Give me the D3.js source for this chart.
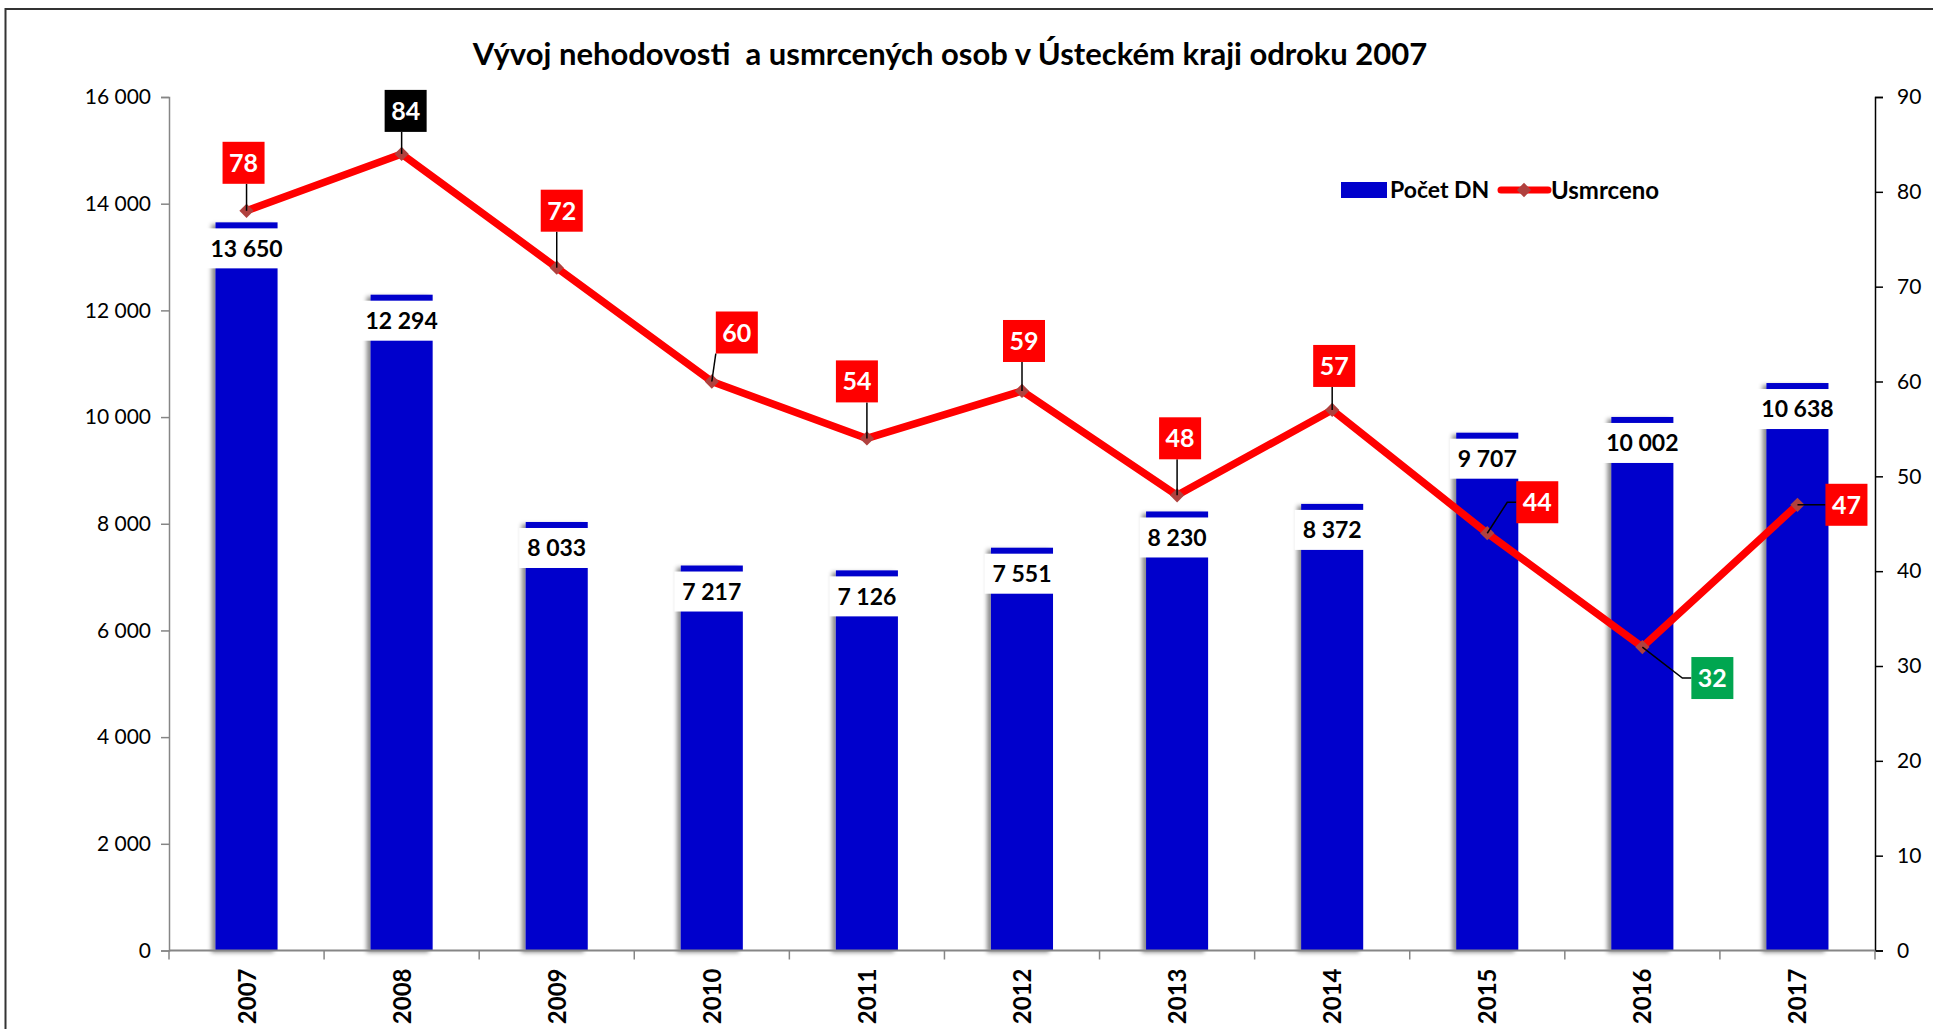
<!DOCTYPE html>
<html>
<head>
<meta charset="utf-8">
<script src="https://cdn.jsdelivr.net/npm/d3@7"></script>
<style>
    body { margin: 0; background: #fff; overflow: hidden; }
    svg { display: block; }
    text { font-family: Lato, "Open Sans", sans-serif; }
</style>
</head>
<body>
<script>
        // data
        const years = ["2007", "2008", "2009", "2010", "2011", "2012", "2013", "2014", "2015", "2016", "2017"];
        const pocetDN = [13650, 12294, 8033, 7217, 7126, 7551, 8230, 8372, 9707, 10002, 10638];
        const usmrceno = [78, 84, 72, 60, 54, 59, 48, 57, 44, 32, 47];
        const leftTicks = [0, 2000, 4000, 6000, 8000, 10000, 12000, 14000, 16000];
        const rightTicks = [0, 10, 20, 30, 40, 50, 60, 70, 80, 90];
        const title = "Vývoj nehodovosti  a usmrcených osob v Ústeckém kraji odroku 2007";
        const seriesNames = ["Počet DN", "Usmrceno"];

        // label box placement relative to the line point (layout, not data)
        const labelShift = [[-3, -48], [4, -43], [5, -57], [25, -49], [-10, -57], [2, -50],
                            [3, -57], [2, -44], [50, -31], [70, 31], [49, 0]];
        const labelFill = (v) => v === d3.max(usmrceno) ? "#000000" : v === d3.min(usmrceno) ? "#00A650" : "#FF0000";

        const width = 1933, height = 1029;
        const plot = { left: 169, right: 1875, top: 97, bottom: 950.5 };

        const svg = d3.select("body")
            .append("svg")
            .attr("width", width)
            .attr("height", height);

        const defs = svg.append("defs");
        defs.append("filter")
            .attr("id", "shadow")
            .attr("x", "-30%").attr("y", "-5%").attr("width", "150%").attr("height", "110%")
            .append("feDropShadow")
            .attr("dx", -4).attr("dy", 2)
            .attr("stdDeviation", 2.2)
            .attr("flood-color", "#000")
            .attr("flood-opacity", 0.45);

        // chart frame
        svg.append("rect")
            .attr("x", 5.5).attr("y", 9)
            .attr("width", width).attr("height", height)
            .attr("fill", "none")
            .attr("stroke", "#333")
            .attr("stroke-width", 2);

        const x = d3.scaleBand()
            .domain(years)
            .range([plot.left, plot.right])
            .paddingInner(0.6)
            .paddingOuter(0.3);
        const yL = d3.scaleLinear().domain([0, 16000]).range([plot.bottom, plot.top]);
        const yR = d3.scaleLinear().domain([0, 90]).range([plot.bottom, plot.top]);

        const cz = d3.formatLocale({ thousands: " ", grouping: [3], decimal: ",", currency: ["", " Kč"] });
        const fmt = cz.format(",d");

        // title
        svg.append("text")
            .attr("x", 950).attr("y", 65)
            .attr("text-anchor", "middle")
            .attr("font-size", 31)
            .attr("font-weight", "bold")
            .style("white-space", "pre")
            .text(title);

        // left axis
        const axL = svg.append("g")
            .attr("transform", `translate(${plot.left},0)`)
            .call(d3.axisLeft(yL).tickValues(leftTicks).tickFormat(fmt).tickSize(8).tickPadding(10));
        axL.select(".domain").attr("stroke", "#868686").attr("stroke-width", 1.5);
        axL.selectAll(".tick line").attr("stroke", "#868686").attr("stroke-width", 1.5);
        axL.selectAll("text").attr("font-size", 21).attr("fill", "#000").attr("font-family", "Lato");

        // right axis
        const axR = svg.append("g")
            .attr("transform", `translate(${plot.right},0)`)
            .call(d3.axisRight(yR).tickValues(rightTicks).tickSize(8).tickPadding(14));
        axR.select(".domain").attr("stroke", "#000").attr("stroke-width", 1.5);
        axR.selectAll(".tick line").attr("stroke", "#000").attr("stroke-width", 1.5);
        axR.selectAll("text").attr("font-size", 21).attr("fill", "#000").attr("font-family", "Lato");

        // bars
        const bars = svg.append("g");
        bars.selectAll("rect")
            .data(years)
            .enter()
            .append("rect")
            .attr("x", (d) => x(d))
            .attr("y", (d, i) => yL(pocetDN[i]))
            .attr("width", x.bandwidth())
            .attr("height", (d, i) => yL(0) - yL(pocetDN[i]))
            .attr("fill", "#0000CC")
            .attr("filter", "url(#shadow)");

        // x axis with ticks between categories
        const gap = (x.step() - x.bandwidth()) / 2;
        const edges = years.map((d) => x(d) - gap).concat([x(years[years.length - 1]) + x.bandwidth() + gap]);
        const axX = svg.append("g");
        axX.append("line")
            .attr("x1", plot.left).attr("x2", plot.right)
            .attr("y1", yL(0)).attr("y2", yL(0))
            .attr("stroke", "#868686").attr("stroke-width", 2);
        axX.selectAll("line.tk")
            .data(edges)
            .enter()
            .append("line")
            .attr("class", "tk")
            .attr("x1", (d) => d).attr("x2", (d) => d)
            .attr("y1", yL(0)).attr("y2", yL(0) + 9)
            .attr("stroke", "#868686").attr("stroke-width", 1.5);
        axX.selectAll("text")
            .data(years)
            .enter()
            .append("text")
            .attr("transform", (d) => `translate(${x(d) + x.bandwidth() / 2 + 9},${yL(0) + 18}) rotate(-90)`)
            .attr("text-anchor", "end")
            .attr("font-family", "DejaVu Sans")
            .attr("font-weight", "bold")
            .attr("font-size", 24)
            .text((d) => d);

        // bar value labels
        const barLabels = svg.append("g")
            .selectAll("g")
            .data(years)
            .enter()
            .append("g")
            .attr("transform", (d, i) => `translate(${x(d) + x.bandwidth() / 2},${yL(pocetDN[i]) + 26})`);
        barLabels.append("text")
            .attr("text-anchor", "middle")
            .attr("dy", "0.36em")
            .attr("font-size", 23)
            .attr("font-weight", "bold")
            .text((d, i) => fmt(pocetDN[i]));
        barLabels.each(function () {
            const g = d3.select(this);
            const w = g.select("text").node().getComputedTextLength();
            g.insert("rect", "text")
                .attr("x", -w / 2 - 8).attr("y", -20)
                .attr("width", w + 14).attr("height", 40)
                .attr("fill", "#fff");
        });

        // line series
        const pts = years.map((d, i) => [x(d) + x.bandwidth() / 2, yR(usmrceno[i])]);
        svg.append("path")
            .datum(pts)
            .attr("d", d3.line())
            .attr("fill", "none")
            .attr("stroke", "#FF0000")
            .attr("stroke-width", 7.5)
            .attr("stroke-linejoin", "round");

        const diamond = d3.symbol().type(d3.symbolDiamond2 || d3.symbolDiamond).size(130);
        svg.append("g")
            .selectAll("path")
            .data(pts)
            .enter()
            .append("path")
            .attr("d", diamond)
            .attr("transform", (p) => `translate(${p[0]},${p[1]})`)
            .attr("fill", "#B0413E");

        // line labels with leader lines
        const box = 42;
        const lineLabels = svg.append("g");
        pts.forEach((p, i) => {
            const cx = p[0] + labelShift[i][0], cy = p[1] + labelShift[i][1];
            const l = cx - box / 2, r = cx + box / 2, t = cy - box / 2, b = cy + box / 2;
            let leader;
            if (p[0] < l - 20) {
                leader = [p, [l - 9, cy], [l, cy]];
            } else {
                leader = [p, [Math.max(l, Math.min(r, p[0])), Math.max(t, Math.min(b, p[1]))]];
            }
            lineLabels.append("path")
                .attr("d", d3.line()(leader))
                .attr("fill", "none")
                .attr("stroke", "#000")
                .attr("stroke-width", 1.5);
            lineLabels.append("rect")
                .attr("x", l).attr("y", t)
                .attr("width", box).attr("height", box)
                .attr("fill", labelFill(usmrceno[i]));
            lineLabels.append("text")
                .attr("x", cx).attr("y", cy)
                .attr("dy", "0.36em")
                .attr("text-anchor", "middle")
                .attr("font-size", 25)
                .attr("font-weight", "bold")
                .attr("fill", "#fff")
                .text(usmrceno[i]);
        });

        // legend
        const legend = svg.append("g").attr("transform", "translate(1341,190)");
        legend.append("rect")
            .attr("x", 0).attr("y", -8)
            .attr("width", 46).attr("height", 16)
            .attr("fill", "#0000CC");
        legend.append("text")
            .attr("x", 49).attr("dy", "0.36em")
            .attr("font-size", 23).attr("font-weight", "bold")
            .text(seriesNames[0]);
        legend.append("line")
            .attr("x1", 160).attr("x2", 207)
            .attr("stroke", "#FF0000").attr("stroke-width", 7).attr("stroke-linecap", "round");
        legend.append("path")
            .attr("d", diamond)
            .attr("transform", "translate(183,0)")
            .attr("fill", "#B0413E");
        legend.append("text")
            .attr("x", 210).attr("dy", "0.36em")
            .attr("font-size", 24).attr("font-weight", "bold")
            .text(seriesNames[1]);
</script>
</body>
</html>
